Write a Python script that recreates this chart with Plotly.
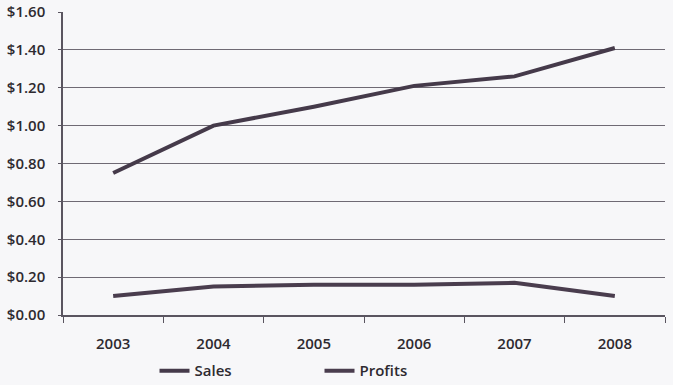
import plotly.graph_objects as go

years = ["2003", "2004", "2005", "2006", "2007", "2008"]
sales = [0.75, 1.00, 1.10, 1.21, 1.26, 1.41]
profits = [0.10, 0.15, 0.16, 0.16, 0.17, 0.10]
y_ticks = [0, 0.2, 0.4, 0.6, 0.8, 1.0, 1.2, 1.4, 1.6]
y_labels = ["$0.00", "$0.20", "$0.40", "$0.60", "$0.80", "$1.00", "$1.20", "$1.40", "$1.60"]

fig = go.Figure()
fig.add_trace(go.Scatter(x=years, y=sales, name="Sales", mode="lines",
                         line=dict(color="#453a4a", width=4)))
fig.add_trace(go.Scatter(x=years, y=profits, name="Profits", mode="lines",
                         line=dict(color="#4a3d4e", width=4)))

tick_font = dict(family="Open Sans", size=15, color="#2e2a30", weight=600)

fig.update_layout(
    width=673, height=385,
    margin=dict(l=63, r=8, t=12, b=70, autoexpand=False),
    paper_bgcolor="#f7f7f9", plot_bgcolor="#f7f7f9",
    font=dict(family="Open Sans", size=14, color="#2e2a30"),
    showlegend=True,
    legend=dict(orientation="h", x=0.152, xanchor="left", y=-0.13, yanchor="top",
                font=dict(family="Open Sans", size=15, color="#2e2a30", weight=600),
                bgcolor="rgba(0,0,0,0)",
                entrywidth=120, itemwidth=30, tracegroupgap=0),
    xaxis=dict(type="category", tickson="boundaries", ticks="outside", ticklen=6,
               tickcolor="#5a5560", showline=True, linecolor="#5a5560", linewidth=1.5,
               showgrid=False, ticklabelstandoff=14, automargin=False,
               tickfont=tick_font, range=[-0.5, 5.5]),
    yaxis=dict(range=[0, 1.6], tickvals=y_ticks, ticktext=y_labels,
               showline=True, linecolor="#5a5560", linewidth=1.5,
               ticks="outside", ticklen=3, tickcolor="#5a5560",
               showgrid=True, gridcolor="#6f6a74", gridwidth=1.3,
               zeroline=False, ticklabelstandoff=10, automargin=False,
               tickfont=tick_font),
)

fig.write_html("out.html", config={"displayModeBar": False},
               post_script="document.body.style.margin='0px';document.body.style.background='#f7f7f9';")
